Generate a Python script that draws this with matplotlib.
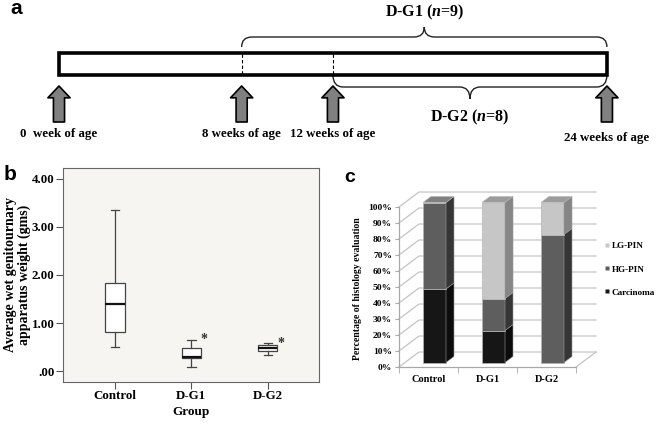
import numpy as np
import matplotlib
matplotlib.use("Agg")
import matplotlib.pyplot as plt
from matplotlib.path import Path
from matplotlib.patches import Rectangle, PathPatch
from matplotlib.lines import Line2D

# ---- data ----
weeks = [0, 8, 12, 24]
week_labels = ["0  week of age", "8 weeks of age", "12 weeks of age", "24 weeks of age"]
g1_start, g2_start, end_week = 8, 12, 24
g1_label = r"D-G1 ($n$=9)"
g2_label = r"D-G2 ($n$=8)"

groups = ["Control", "D-G1", "D-G2"]
whis_lo = [0.50, 0.08, 0.33]
q1 = [0.81, 0.27, 0.42]
med = [1.40, 0.29, 0.48]
q3 = [1.83, 0.48, 0.54]
whis_hi = [3.35, 0.65, 0.58]
marks = ["", "*", "*"]
b_ticks = [0, 1, 2, 3, 4]
b_ticklabels = [".00", "1.00", "2.00", "3.00", "4.00"]

carcinoma = [46, 20, 0]
hg_pin = [54, 20, 80]
lg_pin = [0, 60, 20]
pct_ticks = list(range(0, 101, 10))

plt.rcParams["font.family"] = ["Liberation Serif", "DejaVu Serif"]
plt.rcParams["font.weight"] = "bold"
plt.rcParams["axes.labelweight"] = "bold"
plt.rcParams["mathtext.fontset"] = "custom"
plt.rcParams["mathtext.it"] = "Liberation Serif:italic:bold"
plt.rcParams["mathtext.rm"] = "Liberation Serif:bold"

W, H = 661, 424
fig = plt.figure(figsize=(W / 100, H / 100), dpi=100)


def box(l, t, r, b):
    return [l / W, 1 - b / H, (r - l) / W, (b - t) / H]


# ---- panel a: timeline ----
axa = fig.add_axes(box(0, 0, W, 150))
px_per_week = 22.83
axa.set_xlim(-59 / px_per_week, (W - 59) / px_per_week)
axa.set_ylim(150, 0)
axa.axis("off")

axa.add_patch(Rectangle((weeks[0], 53), weeks[-1] - weeks[0], 22,
                        fc="white", ec="black", lw=2.6, zorder=3))
for w in (g1_start, g2_start):
    axa.plot([w, w], [54, 74], color="black", lw=0.8, ls=(0, (3, 2)), zorder=4)

for i, (w, lab) in enumerate(zip(weeks, week_labels)):
    axa.annotate("", xy=(w, 86), xytext=(w, 122),
                 arrowprops=dict(arrowstyle="simple,head_width=1.6,head_length=0.85,tail_width=0.8",
                                 fc="#808080", ec="black", lw=1.2,
                                 shrinkA=0, shrinkB=0, mutation_scale=10))
    axa.text(w, 138 if i == len(weeks) - 1 else 134, lab, ha="center", va="center",
             fontsize=9.3)


def brace(ax, x0, x1, y_end, y_line, y_tip, r=0.45):
    xm = (x0 + x1) / 2
    verts = [(x0, y_end), (x0, y_line), (x0 + r, y_line),
             (xm - r, y_line), (xm, y_line), (xm, y_tip),
             (xm, y_line), (xm + r, y_line),
             (x1 - r, y_line), (x1, y_line), (x1, y_end)]
    codes = [Path.MOVETO, Path.CURVE3, Path.CURVE3,
             Path.LINETO, Path.CURVE3, Path.CURVE3,
             Path.CURVE3, Path.CURVE3,
             Path.LINETO, Path.CURVE3, Path.CURVE3]
    ax.add_patch(PathPatch(Path(verts, codes), fc="none", ec="#222222", lw=1.0))


brace(axa, g1_start, end_week, 47, 37, 27)
brace(axa, g2_start, end_week, 75, 87, 99)
axa.text((g1_start + end_week) / 2, 12, g1_label, ha="center", va="center", fontsize=11.5)
axa.text((g2_start + end_week) / 2, 117, g2_label, ha="center", va="center", fontsize=11.5)

# ---- panel b: box plot ----
axb = fig.add_axes(box(63, 168, 319, 382))
axb.set_facecolor("#f6f5f1")
stats = [dict(med=m, q1=a, q3=c, whislo=lo, whishi=hi, fliers=[], label=g)
         for g, lo, a, m, c, hi in zip(groups, whis_lo, q1, med, q3, whis_hi)]
pos = np.arange(1, len(groups) + 1)
axb.bxp(stats, positions=pos, widths=0.25, capwidths=0.11, patch_artist=True,
        boxprops=dict(fc="white", ec="#444444", lw=0.9),
        medianprops=dict(color="#111111", lw=1.6),
        whiskerprops=dict(color="#444444", lw=0.9),
        capprops=dict(color="#444444", lw=0.9))
for p, hi, m in zip(pos, whis_hi, marks):
    if m:
        axb.text(p + 0.17, hi, m, ha="center", va="center", fontsize=10, color="#333333")
axb.set_xlim(0.32, 3.67)
axb.set_ylim(-0.229, 4.229)
axb.set_yticks(b_ticks)
axb.set_yticklabels(b_ticklabels)
axb.tick_params(direction="out", length=5, color="#555555", labelsize=9.3, pad=1)
for s in axb.spines.values():
    s.set_color("#666666")
    s.set_linewidth(0.8)
axb.set_xlabel("Group", fontsize=9.5, labelpad=3)
axb.set_ylabel("Average wet genitournary\napparatus weight (gms)", fontsize=10,
               linespacing=1.05)
axb.yaxis.set_label_coords(-0.125, 0.5)

# ---- panel c: pseudo-3D stacked bars ----
axc = fig.add_axes(box(399, 192, 596, 367))
dx, dy = 20 / 59, 15 / 1.6
axc.set_xlim(-0.5, 2.5 + dx)
axc.set_ylim(0, 100 + dy)
for s in ("top", "right"):
    axc.spines[s].set_visible(False)
axc.spines["left"].set_bounds(0, 100)
axc.spines["bottom"].set_bounds(-0.5, 2.5)
for s in ("left", "bottom"):
    axc.spines[s].set_color("#a8a8a8")
    axc.spines[s].set_linewidth(0.9)

for v in pct_ticks:
    axc.plot([-0.5, -0.5 + dx, 2.5 + dx], [v, v + dy, v + dy],
             color="#c4c4c4", lw=0.9, zorder=1, clip_on=False)
axc.plot([2.5, 2.5 + dx], [0, dy], color="#c4c4c4", lw=0.9, zorder=1, clip_on=False)

axc.set_yticks(pct_ticks)
axc.set_yticklabels([f"{v}%" for v in pct_ticks])
axc.set_xticks(range(len(groups)))
axc.set_xticklabels(groups)
axc.set_xticks(np.arange(-0.5, len(groups), 1.0), minor=True)
axc.tick_params(axis="y", length=3, color="#a8a8a8", labelsize=6.8, pad=2)
axc.tick_params(axis="x", which="major", length=0, labelsize=7.5, pad=6)
axc.tick_params(axis="x", which="minor", length=4, color="#a8a8a8")
axc.set_ylabel("Percentage of histology evaluation", fontsize=7)
axc.yaxis.set_label_coords(-0.19, 0.45)

series = [
    (carcinoma, "#161616", "#0c0c0c", "#3a3a3a"),
    (hg_pin, "#5e5e5e", "#363636", "#808080"),
    (lg_pin, "#c6c6c6", "#868686", "#9c9c9c"),
]
bw, f0, fd = 0.39, 0.3, 0.4
for i in range(len(groups)):
    segs = [(vals[i], fc, sc, tc) for vals, fc, sc, tc in series if vals[i] > 0]
    base = 0
    for k, (v, fc, sc, tc) in enumerate(segs):
        xl = i - bw / 2 + f0 * dx
        xr = xl + bw
        yb, yt = base + f0 * dy, base + v + f0 * dy
        ox, oy = fd * dx, fd * dy
        axc.fill([xl, xr, xr, xl], [yb, yb, yt, yt], fc=fc, ec="#b4b4b4", lw=0.5,
                 zorder=3, clip_on=False)
        axc.fill([xr, xr + ox, xr + ox, xr], [yb, yb + oy, yt + oy, yt], fc=sc,
                 ec="#9a9a9a", lw=0.4, zorder=3, clip_on=False)
        if k == len(segs) - 1:
            axc.fill([xl, xl + ox, xr + ox, xr], [yt, yt + oy, yt + oy, yt], fc=tc,
                     ec="#b4b4b4", lw=0.4, zorder=3, clip_on=False)
        base += v

handles = [Line2D([], [], ls="none", marker="s", ms=3.5, mfc=fc, mec="none")
           for _, fc, _, _ in series[::-1]]
fig.legend(handles, ["LG-PIN", "HG-PIN", "Carcinoma"], loc="upper left",
           bbox_to_anchor=(605 / W, 1 - 242 / H), frameon=False, fontsize=6.6,
           handlelength=0.5, handletextpad=0.25, labelspacing=1.6,
           borderpad=0, borderaxespad=0)

# ---- panel letters ----
fig.text(10 / W, 1 - 9 / H, "a", fontsize=15, family="Liberation Sans", weight="bold",
         va="center")
fig.text(4 / W, 1 - 174 / H, "b", fontsize=15, family="Liberation Sans", weight="bold",
         va="center")
fig.text(344 / W, 1 - 177 / H, "c", fontsize=14, family="Liberation Sans", weight="bold",
         va="center")

fig.savefig("out.png", dpi=100)
